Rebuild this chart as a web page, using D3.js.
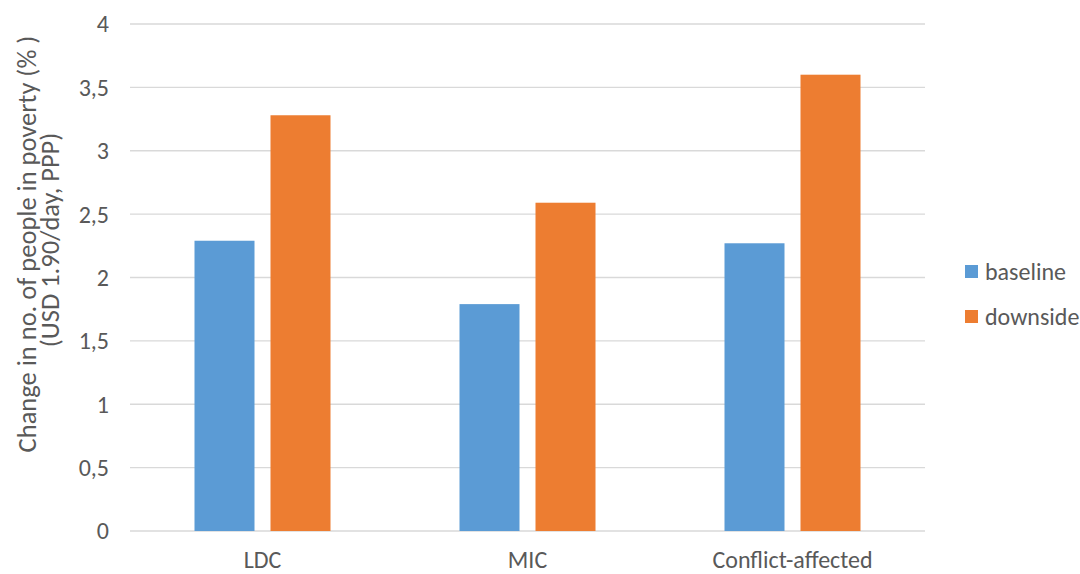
<!DOCTYPE html>
<html><head><meta charset="utf-8">
<script src="https://cdn.jsdelivr.net/npm/d3@7"></script>
<style>body{margin:0;background:#fff;} svg{display:block;} text{font-family:Carlito,"Open Sans","Liberation Sans",sans-serif;fill:#595959;}</style>
</head><body>
<svg id="c" width="1080" height="574"></svg>
<script>
const categories = ["LDC", "MIC", "Conflict-affected"];
const seriesNames = ["baseline", "downside"];
const baseline = [2.29, 1.79, 2.27];
const downside = [3.28, 2.59, 3.60];
const yTicks = [0, 0.5, 1, 1.5, 2, 2.5, 3, 3.5, 4];
const colors = ["#5b9bd5", "#ed7d31"];

const svg = d3.select("#c");
const x = d3.scaleBand().domain(categories).range([130, 925]).paddingInner(0).paddingOuter(0);
const y = d3.scaleLinear().domain([0, 4]).range([531, 24]);
const x1 = d3.scaleBand().domain(seriesNames).range([0, 136]).paddingInner(16/76);
const groupOffset = (x.bandwidth() - 136) / 2;

// gridlines
svg.append("g").selectAll("line").data(yTicks).join("line")
  .attr("x1", 130).attr("x2", 925)
  .attr("y1", d => y(d)).attr("y2", d => y(d))
  .attr("stroke", "#d9d9d9").attr("stroke-width", 1.3);

// y tick labels
const fmt = d => String(d).replace(".", ",");
svg.append("g").selectAll("text").data(yTicks).join("text")
  .attr("x", 109).attr("y", d => y(d)).attr("dy", "0.35em")
  .attr("text-anchor", "end").attr("font-size", 24).text(fmt);

// bars
const series = [baseline, downside];
series.forEach((vals, si) => {
  svg.append("g").selectAll("rect").data(vals).join("rect")
    .attr("x", (d, i) => x(categories[i]) + groupOffset + x1(seriesNames[si]))
    .attr("width", x1.bandwidth())
    .attr("y", d => y(d))
    .attr("height", d => y(0) - y(d))
    .attr("fill", colors[si]);
});

// x labels
svg.append("g").selectAll("text").data(categories).join("text")
  .attr("x", d => x(d) + x.bandwidth() / 2).attr("y", 560).attr("dy", "0.35em")
  .attr("text-anchor", "middle").attr("font-size", 24).text(d => d);

// y axis title
svg.append("text").attr("transform", "translate(36,244) rotate(-90)")
  .attr("text-anchor", "middle").attr("font-size", 26.5)
  .text("Change in no. of people in poverty (% )");
svg.append("text").attr("transform", "translate(59,240) rotate(-90)")
  .attr("text-anchor", "middle").attr("font-size", 26.5)
  .text("(USD 1.90/day, PPP)");

// legend
const lg = svg.append("g");
seriesNames.forEach((s, i) => {
  lg.append("rect").attr("x", 965).attr("y", 265 + i * 45).attr("width", 13).attr("height", 13).attr("fill", colors[i]);
  lg.append("text").attr("x", 985).attr("y", 271.5 + i * 45).attr("dy", "0.35em").attr("font-size", 24).text(s);
});
</script>
</body></html>
